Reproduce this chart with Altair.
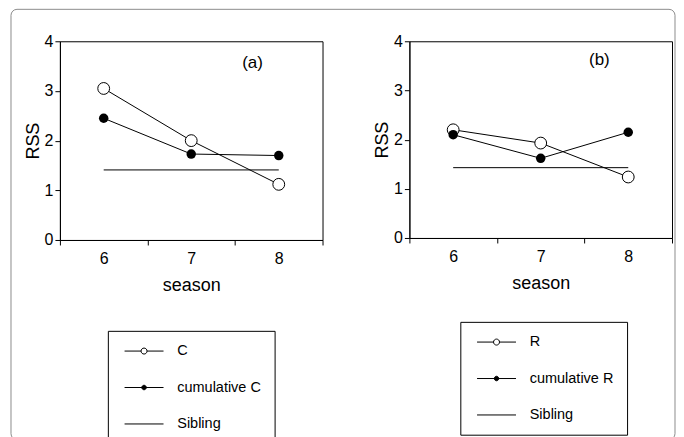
import altair as alt
import pandas as pd

# ---- data ----
seasons = [6, 7, 8]
c_vals = [3.05, 2.00, 1.12]
cum_c_vals = [2.45, 1.73, 1.70]
r_vals = [2.20, 1.93, 1.24]
cum_r_vals = [2.10, 1.62, 2.15]
sibling_a = 1.41
sibling_b = 1.43
sibling_span = [6, 8]
panel_labels = ["(a)", "(b)"]
label_x = [7.70, 7.67]
label_y = [3.57, 3.61]
legend_a = ["C", "cumulative C", "Sibling"]
legend_b = ["R", "cumulative R", "Sibling"]
x_ticks = [5.5, 6, 6.5, 7, 7.5, 8, 8.5]
y_ticks = [0, 0.5, 1, 1.5, 2, 2.5, 3, 3.5, 4]

FONT = "Liberation Sans"

# legend symbols (unit = 5px at symbolSize 100): line with open circle,
# line with dot, plain line
SYM_OPEN = ("M-0.7,0H2.6M3.8,0H7.1M2.6,0A0.6,0.6,0,1,1,3.8,0"
            "A0.6,0.6,0,1,1,2.6,0Z")
SYM_DOT = ("M-0.7,0H7.1M2.75,0A0.45,0.45,0,1,1,3.65,0"
           "A0.45,0.45,0,1,1,2.75,0Z")
SYM_LINE = "M-0.7,0H7.1"


def panel(names, main_vals, cum_vals, sib, label, lx, ly, w, h, lgx, lgy,
          frame=None):
    main_name, cum_name, sib_name = names
    df = pd.DataFrame({
        "season": seasons * 2,
        "RSS": main_vals + cum_vals,
        "series": [main_name] * 3 + [cum_name] * 3,
    })
    sib_df = pd.DataFrame({"season": sibling_span, "RSS": [sib, sib],
                           "series": [sib_name] * 2})

    x = alt.X("season:Q",
              scale=alt.Scale(domain=[5.5, 8.5], nice=False, zero=False),
              axis=alt.Axis(values=x_ticks, title="season",
                            labelExpr="datum.value % 1 === 0 ? format(datum.value, 'd') : ''",
                            tickOpacity={"condition": {"test": "datum.value % 1 === 0", "value": 0}, "value": 1},
                            tickSize=5, labelPadding=6, titlePadding=10))
    y = alt.Y("RSS:Q",
              scale=alt.Scale(domain=[0, 4], nice=False),
              axis=alt.Axis(values=y_ticks, title="RSS",
                            labelExpr="datum.value % 1 === 0 ? datum.label : ''",
                            tickSize=5, labelPadding=2, titlePadding=2))

    base = alt.Chart(df)
    lines = base.mark_line(color="black", strokeWidth=1).encode(
        x=x, y=y, detail="series:N")
    sib_line = alt.Chart(sib_df).mark_line(color="black", strokeWidth=1).encode(
        x="season:Q", y="RSS:Q")
    open_pts = base.transform_filter(alt.datum.series == main_name).mark_point(
        shape="circle", filled=True, fill="white", stroke="black",
        strokeWidth=1, size=140, opacity=1).encode(x="season:Q", y="RSS:Q")
    dot_pts = base.transform_filter(alt.datum.series == cum_name).mark_point(
        shape="circle", filled=True, color="black", size=90, opacity=1).encode(
        x="season:Q", y="RSS:Q")

    lab_df = pd.DataFrame({"season": [lx], "RSS": [ly], "t": [label]})
    lab = alt.Chart(lab_df).mark_text(font=FONT, fontSize=17, color="black").encode(
        x="season:Q", y="RSS:Q", text="t:N")

    leg = alt.Legend(orient="none", legendX=lgx, legendY=lgy, title=None,
                     strokeColor="black", fillColor="white", padding=13,
                     labelFont=FONT, labelFontSize=14.5, labelColor="black",
                     labelOffset=42, rowPadding=21.5, symbolSize=100,
                     symbolStrokeColor="black", symbolStrokeWidth=1,
                     symbolOpacity=1, cornerRadius=0,
                     labelExpr="datum.label + '\u00a0\u00a0\u00a0\u00a0\u2009'")
    leg_df = pd.DataFrame({"series": list(names)})
    sc = dict(domain=list(names))
    legend_layer = alt.Chart(leg_df).transform_filter("false").mark_point(
        filled=True, opacity=1, strokeWidth=1).encode(
        shape=alt.Shape("series:N", scale=alt.Scale(range=[SYM_OPEN, SYM_DOT, SYM_LINE], **sc), legend=leg),
        fill=alt.Fill("series:N", scale=alt.Scale(range=["white", "black", "white"], **sc), legend=leg),
        stroke=alt.Stroke("series:N", scale=alt.Scale(range=["black", "black", "black"], **sc), legend=leg),
    )

    layers = [lines, sib_line, open_pts, dot_pts, lab, legend_layer]
    if frame is not None:
        fr = alt.Chart(pd.DataFrame({"k": [0]})).mark_rect(
            filled=False, stroke="#8c8c8c", strokeWidth=1, cornerRadius=6).encode(
            x=alt.value(frame[0]), x2=alt.value(frame[1]),
            y=alt.value(frame[2]), y2=alt.value(frame[3]))
        layers = [fr] + layers
    return alt.layer(*layers).properties(width=w, height=h)


left = panel(legend_a, c_vals, cum_c_vals, sibling_a, panel_labels[0],
             label_x[0], label_y[0], 263, 199, 48, 290,
             frame=(-49, 616, -32, 399))
right = panel(legend_b, r_vals, cum_r_vals, sibling_b, panel_labels[1],
              label_x[1], label_y[1], 263, 197, 51, 281)

chart = alt.hconcat(left, right, spacing=87, bounds="flush").resolve_scale(
    shape="independent", fill="independent", stroke="independent",
    x="independent", y="independent"
).resolve_legend(shape="independent", fill="independent", stroke="independent").properties(
    padding={"left": 2, "top": 0, "right": 0, "bottom": 0}
).configure_axis(
    grid=False, domainColor="black", tickColor="black", labelColor="black",
    titleColor="black", labelFont=FONT, titleFont=FONT, labelFontSize=16,
    titleFontSize=18, titleFontWeight="normal", domainWidth=1, tickWidth=1
).configure_view(stroke="black", strokeWidth=1)

chart.save("out.html", embed_options={"renderer": "svg", "actions": False})
